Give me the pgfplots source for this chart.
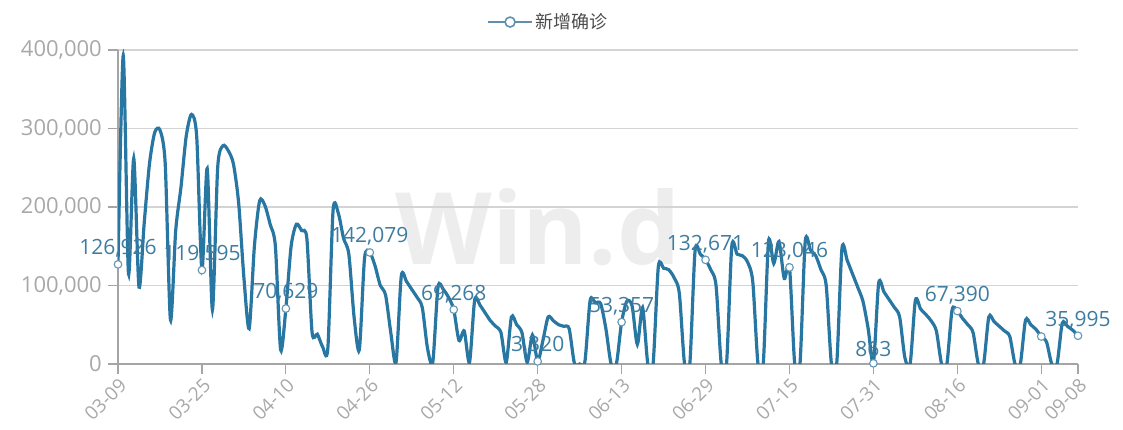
\documentclass[border=0pt]{standalone}
\usepackage{pgfplots}
\pgfplotsset{compat=1.18}
\usepackage{pgfplotstable}
\usepackage{fontspec}
\setmainfont{Open Sans}
\newfontfamily\cjk{Noto Sans CJK SC}

\definecolor{linec}{RGB}{40,118,162}
\definecolor{labc}{RGB}{62,124,160}
\definecolor{tickc}{RGB}{168,168,168}
\definecolor{gridc}{RGB}{212,212,212}
\definecolor{axisc}{RGB}{165,165,165}
\definecolor{legc}{RGB}{95,145,175}

% daily new cases, 03-09 .. 09-08
\pgfplotstableread{
i v
0 126926
1 393000
2 115000
3 262000
4 98000
5 180000
6 255000
7 295000
8 298000
9 255000
10 56000
11 170000
12 225000
13 290000
14 318000
15 290000
16 119595
17 249000
18 69000
19 250000
20 278000
21 272000
22 255000
23 205000
24 110000
25 45000
26 150000
27 208000
28 202000
29 178000
30 150000
31 18000
32 70629
33 150000
34 178000
35 170000
36 160000
37 40000
38 38000
39 22000
40 20000
41 196000
42 192000
43 160000
44 140000
45 60000
46 18000
47 135000
48 142079
49 125000
50 100000
51 88000
52 40000
53 2000
54 112000
55 105000
56 95000
57 85000
58 72000
59 20000
60 2000
61 98000
62 95000
63 85000
64 69268
65 30000
66 42000
67 2000
68 82000
69 75000
70 65000
71 55000
72 48000
73 40000
74 2000
75 60000
76 50000
77 40000
78 2000
79 37000
80 3320
81 30000
82 60000
83 55000
84 50000
85 48000
86 45000
87 1000
88 0
89 3000
90 81000
91 78000
92 77000
93 45000
94 0
95 0
96 53357
97 80000
98 74000
99 25000
100 72000
101 0
102 0
103 124000
104 122000
105 120000
106 110000
107 90000
108 0
109 0
110 144000
111 140000
112 132671
113 120000
114 100000
115 0
116 0
117 150000
118 140000
119 138000
120 130000
121 105000
122 0
123 0
124 156000
125 128000
126 156000
127 109000
128 123046
129 0
130 0
131 156000
132 145000
133 138000
134 120000
135 100000
136 0
137 0
138 147000
139 132000
140 115000
141 98000
142 80000
143 45000
144 863
145 103000
146 92000
147 82000
148 72000
149 60000
150 8000
151 0
152 81000
153 70000
154 63000
155 55000
156 42000
157 0
158 0
159 69000
160 67390
161 58000
162 50000
163 40000
164 0
165 0
166 60000
167 54000
168 48000
169 42000
170 35000
171 0
172 0
173 56000
174 50000
175 44000
176 35000
177 28000
178 0
179 0
180 52000
181 48000
182 43000
183 35995
}\daily

\pgfplotstableread{
i v lab
0 126926 126,926
16 119595 119,595
32 70629 70,629
48 142079 142,079
64 69268 69,268
80 3320 3,320
96 53357 53,357
112 132671 132,671
128 123046 123,046
144 863 863
160 67390 67,390
183 35995 35,995
}\marked

\begin{document}
\begin{tikzpicture}
\path[use as bounding box] (0,0) rectangle (1123pt,430pt);
% watermark
\node[text=black!7, font=\fontsize{100}{100}\selectfont\bfseries] at (538pt,203pt) {Win.d};
\begin{axis}[
  at={(118pt,66pt)}, anchor=south west,
  scale only axis, width=960pt, height=314pt,
  xmin=0, xmax=183, ymin=0, ymax=400000,
  axis x line*=bottom, axis y line*=left,
  axis line style={axisc, line width=1.2pt},
  xtick={0,16,32,48,64,80,96,112,128,144,160,176,183},
  xticklabels={03-09,03-25,04-10,04-26,05-12,05-28,06-13,06-29,07-15,07-31,08-16,09-01,09-08},
  ytick={0,100000,200000,300000,400000},
  scaled y ticks=false,
  /pgf/number format/assume math mode=true,
  ymajorgrids, grid style={gridc, line width=1.3pt},
  tick align=outside, major tick length=10pt,
  tick style={axisc, line width=1.2pt},
  xticklabel style={rotate=45, anchor=north east, text=tickc, font=\fontsize{19}{22}\selectfont, inner sep=2pt},
  yticklabel style={text=tickc, font=\fontsize{22}{25}\selectfont, inner sep=3pt, xshift=-3pt,
    /pgf/number format/fixed, /pgf/number format/1000 sep={,}},
  clip=true,
  legend style={at={(0.448,1.089)}, anchor=center, draw=none, fill=none,
    font=\cjk\fontsize{18}{21}\selectfont, text=black!70},
  legend image code/.code={\draw[#1, mark repeat=2, mark phase=2] plot coordinates {(0pt,0pt) (22pt,0pt) (44pt,0pt)};},
]
\addlegendimage{legc, line width=2pt, mark=*, mark size=5pt, mark options={fill=white, draw=legc, line width=1.6pt}}
\addlegendentry{新增确诊}
\addplot[linec, line width=3.2pt, smooth, tension=0.45, forget plot] table[x=i, y=v] {\daily};
\addplot[only marks, mark=*, mark size=3.8pt, mark options={fill=white, draw=labc!80, line width=1.1pt},
  point meta=explicit symbolic,
  nodes near coords, nodes near coords style={text=labc, font=\fontsize{21}{24}\selectfont, anchor=south, yshift=3pt},
  forget plot] table[x=i, y=v, meta=lab] {\marked};
\addplot[only marks, mark=*, mark size=3.8pt, mark options={fill=white, draw=labc!80, line width=1.1pt}, forget plot]
  coordinates {(176,35000)};
\end{axis}
\end{tikzpicture}
\end{document}
